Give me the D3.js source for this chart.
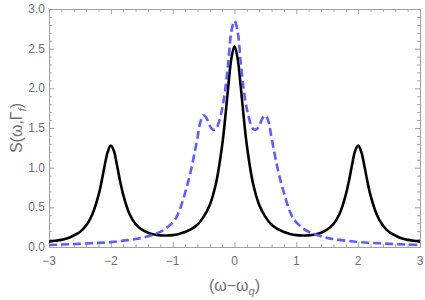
<!DOCTYPE html>
<html>
<head>
<meta charset="utf-8">
<script src="https://cdn.jsdelivr.net/npm/d3@7"></script>
<style>
  body { margin: 0; background: #fff; }
  text { font-family: "Liberation Sans", "DejaVu Sans", sans-serif; }
</style>
</head>
<body>
<script>
// black curve, S(w)
let blackX = [-3.0,-2.9,-2.8,-2.7,-2.6,-2.5,-2.4,-2.3,-2.2,-2.15,-2.1,-2.05,-2.0,-1.95,-1.9,-1.85,-1.8,-1.7,-1.6,-1.5,-1.4,-1.3,-1.2,-1.1,-1.0,-0.9,-0.8,-0.7,-0.6,-0.5,-0.4,-0.3,-0.2,-0.15,-0.1,-0.05,
  0,0.05,0.1,0.15,0.2,0.3,0.4,0.5,0.6,0.7,0.8,0.9,1.0,1.1,1.2,1.3,1.4,1.5,1.6,1.7,1.8,1.85,1.9,1.95,2.0,2.05,2.1,2.15,2.2,2.3,2.4,2.5,2.6,2.7,2.8,2.9,3.0];
let blackY = [0.068,0.078,0.09,0.11,0.145,0.19,0.27,0.41,0.65,0.825,1.025,1.20,1.28,1.21,1.03,0.83,0.66,0.42,0.29,0.22,0.18,0.157,0.147,0.145,0.15,0.165,0.19,0.225,0.28,0.38,0.53,0.80,1.28,1.63,2.03,2.38,
  2.53,2.38,2.03,1.63,1.28,0.80,0.53,0.38,0.28,0.225,0.19,0.165,0.15,0.145,0.147,0.157,0.18,0.22,0.29,0.42,0.66,0.83,1.03,1.21,1.28,1.20,1.025,0.825,0.65,0.41,0.27,0.19,0.145,0.11,0.09,0.078,0.068];

// blue dashed curve
let blueX = [-3.0,-2.8,-2.6,-2.4,-2.2,-2.0,-1.8,-1.6,-1.5,-1.4,-1.3,-1.2,-1.1,-1.0,-0.95,-0.9,-0.85,-0.8,-0.75,-0.7,-0.65,-0.6,-0.55,-0.5,-0.45,-0.4,-0.35,-0.3,-0.25,-0.2,-0.15,-0.1,-0.05,
  0,0.05,0.1,0.15,0.2,0.25,0.3,0.35,0.4,0.45,0.5,0.55,0.6,0.65,0.7,0.75,0.8,0.85,0.9,0.95,1.0,1.1,1.2,1.3,1.4,1.5,1.6,1.8,2.0,2.2,2.4,2.6,2.8,3.0];
let blueY = [0.026,0.031,0.037,0.044,0.052,0.062,0.08,0.10,0.115,0.135,0.16,0.19,0.24,0.31,0.36,0.44,0.55,0.68,0.82,0.98,1.17,1.37,1.58,1.66,1.62,1.53,1.48,1.49,1.58,1.74,1.98,2.33,2.72,
  2.85,2.72,2.33,1.98,1.74,1.58,1.49,1.48,1.53,1.62,1.66,1.58,1.37,1.17,0.98,0.82,0.68,0.55,0.44,0.36,0.31,0.24,0.19,0.16,0.135,0.115,0.10,0.08,0.062,0.052,0.044,0.037,0.031,0.026];

let xTicks = [-3,-2,-1,0,1,2,3],
    yTicks = [0,0.5,1,1.5,2,2.5,3];

let width = 425, height = 300,
    padL = 49, padR = 420, padT = 9, padB = 247;

let xScale = d3.scaleLinear([-3, 3], [padL, padR]),
    yScale = d3.scaleLinear([0, 3], [padB, padT]);

let svg = d3.select('body').append('svg').attr('width', width).attr('height', height);

let frameColor = '#a0a0a0', labelColor = '#707070';
let fmtX = d => d3.format('d')(d).replace('-', '\u2212');

// frame axes, ticks inward like Mathematica
let minorX = d3.range(-3, 3.001, 0.2).filter(v => Math.abs(v - Math.round(v)) > 1e-6),
    minorY = d3.range(0, 3.001, 0.1).filter(v => Math.abs(v * 2 - Math.round(v * 2)) > 1e-6);

function frame(g, axisFn, scale, ticks, minor, size) {
  g.call(axisFn(scale).tickValues(ticks).tickSize(size).tickSizeOuter(0).tickFormat(''));
  g.append('g').call(axisFn(scale).tickValues(minor).tickSize(size * 0.55).tickFormat(''))
    .call(s => s.select('.domain').remove());
}

let xAxisB = svg.append('g').attr('transform', `translate(0,${padB})`),
    xAxisT = svg.append('g').attr('transform', `translate(0,${padT})`),
    yAxisL = svg.append('g').attr('transform', `translate(${padL},0)`),
    yAxisR = svg.append('g').attr('transform', `translate(${padR},0)`);

frame(xAxisB, d3.axisTop, xScale, xTicks, minorX, 5);
frame(xAxisT, d3.axisBottom, xScale, xTicks, minorX, 5);
frame(yAxisL, d3.axisRight, yScale, yTicks, minorY, 5);
frame(yAxisR, d3.axisLeft, yScale, yTicks, minorY, 5);

svg.selectAll('.domain, .tick line').style('stroke', frameColor).style('stroke-width', '1px');

// tick labels
svg.append('g').selectAll('text').data(xTicks).join('text')
  .attr('x', d => xScale(d)).attr('y', padB + 18)
  .attr('text-anchor', 'middle')
  .style('font-size', '12px').style('fill', labelColor)
  .text(fmtX);

svg.append('g').selectAll('text').data(yTicks).join('text')
  .attr('x', padL - 4).attr('y', d => yScale(d) + 4)
  .attr('text-anchor', 'end')
  .style('font-size', '12px').style('fill', labelColor)
  .text(d3.format('.1f'));

// curves
let lineGen = d3.line()
  .x(d => xScale(d[0]))
  .y(d => yScale(d[1]))
  .curve(d3.curveCatmullRom.alpha(0.5));

svg.append('clipPath').attr('id', 'clip').append('rect')
  .attr('x', padL).attr('y', padT).attr('width', padR - padL).attr('height', padB - padT);

svg.append('path')
  .datum(d3.zip(blackX, blackY))
  .attr('d', lineGen)
  .attr('clip-path', 'url(#clip)')
  .style('fill', 'none')
  .style('stroke', '#000')
  .style('stroke-width', '2.6px');

svg.append('path')
  .datum(d3.zip(blueX, blueY))
  .attr('d', lineGen)
  .attr('clip-path', 'url(#clip)')
  .style('fill', 'none')
  .style('stroke', '#5f5ff7')
  .style('stroke-width', '2.6px')
  .style('stroke-dasharray', '8 4');

// axis titles
let xt = svg.append('text')
  .attr('x', (padL + padR) / 2).attr('y', 291)
  .attr('text-anchor', 'middle')
  .style('font-size', '16px').style('fill', labelColor);
xt.append('tspan').text('(\u03c9\u2212\u03c9');
xt.append('tspan').attr('dy', 4).style('font-size', '11px').style('font-style', 'italic').text('q');
xt.append('tspan').attr('dy', -4).text(')');

let yt = svg.append('text')
  .attr('transform', `translate(22,${(padT + padB) / 2}) rotate(-90)`)
  .attr('text-anchor', 'middle')
  .style('font-size', '16px').style('fill', labelColor);
yt.append('tspan').text('S(\u03c9,\u0393');
yt.append('tspan').attr('dy', 4).style('font-size', '11px').style('font-style', 'italic').text('f');
yt.append('tspan').attr('dy', -4).text(')');
</script>
</body>
</html>
